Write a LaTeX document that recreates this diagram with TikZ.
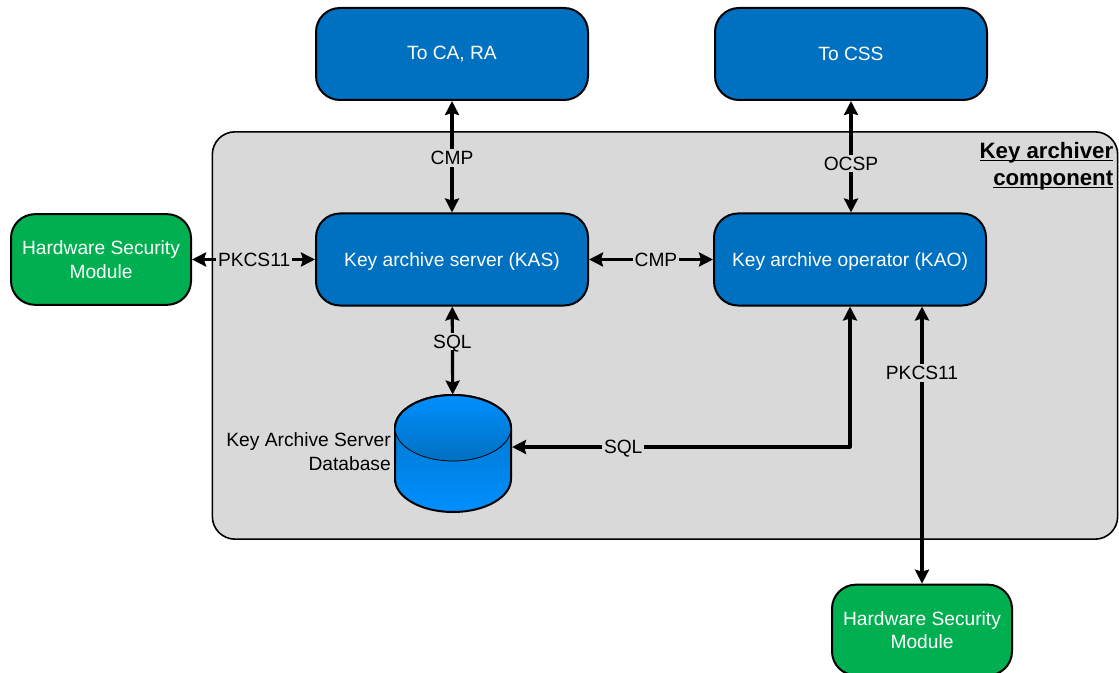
\documentclass[tikz,border=0pt]{standalone}
\usepackage{fontspec}
\usetikzlibrary{arrows.meta}
\setmainfont{Liberation Sans}
\definecolor{panelgray}{HTML}{D9D9D9}
\definecolor{boxblue}{HTML}{0070C0}
\definecolor{dbblue}{HTML}{0090FF}
\definecolor{hsmgreen}{HTML}{00B050}
\newcommand{\titleline}[1]{\underline{\smash{#1}}}
\tikzset{
  unit/.style={draw=black, line width=1.5pt, rounded corners=18pt, text=white, align=center, minimum width=204pt, minimum height=69pt, fill=boxblue},
  hsm/.style={unit, fill=hsmgreen, minimum width=135pt, minimum height=68pt},
  link/.style={<->, line width=2.4pt},
  proto/.style={fill=panelgray, inner sep=1.5pt, text depth=0pt}
}
\begin{document}
\begin{tikzpicture}[x=0.75pt, y=-0.75pt, font=\fontsize{14.4}{17.5}\selectfont, line join=round, >={Stealth[length=10.5pt,width=10.5pt,inset=1.5pt]}]
\useasboundingbox (0,0) rectangle (1119,673);
\node[draw=black, line width=1.2pt, fill=panelgray, rounded corners=17pt, minimum width=679pt, minimum height=305.5pt] (panel) at (665,335.5) {};
\node[anchor=north east, align=right, font=\fontsize{16.7}{20.3}\bfseries\selectfont, inner sep=0pt] (title) at (1113.5,158) {\titleline{Key archiver}\\\titleline{component}};
\node[unit] (toca) at (452,54) {To CA, RA};
\node[unit] (tocss) at (851,54) {To CSS};
\node[unit, text depth=0pt] (kas) at (452,259.5) {Key archive server (KAS)};
\node[unit, text depth=0pt] (kao) at (850,259.5) {Key archive operator (KAO)};
\node[hsm] (hsma) at (101,259.5) {Hardware Security\\Module};
\node[hsm] (hsmb) at (922,630) {Hardware Security\\Module};
% database drum
\node[minimum width=87pt, minimum height=88pt, inner sep=0pt] (db) at (453,453.5) {};
\shade[draw=black, line width=1.5pt, shading angle=-45, top color=boxblue, middle color=dbblue, bottom color=dbblue] (395,428) -- (395,479) arc[start angle=180, end angle=0, x radius=58, y radius=33] -- (511,428) arc[start angle=0, end angle=-180, x radius=58, y radius=33] -- cycle;
\shade[draw=black, line width=0.6pt, top color=dbblue, bottom color=boxblue] (453,428) ellipse[x radius=58, y radius=33];
\draw[line width=1.5pt] (395,428) arc[start angle=180, end angle=360, x radius=58, y radius=33];
\node[anchor=east, align=right, inner sep=0pt] (dblabel) at (391,451.5) {Key Archive Server\\Database};
\coordinate (dbport) at (512,447);
% connectors
\draw[link] (toca) -- node[proto, pos=.51] (cmpa) {CMP} (kas);
\draw[link] (tocss.south) -- node[proto, pos=.56] (ocsp) {OCSP} (tocss.south |- kao.north);
\draw[link] (hsma) -- node[proto, pos=.505] (pkcsa) {PKCS11} (kas);
\draw[link] (kas) -- node[proto, pos=.54] (cmpb) {CMP} (kao);
\draw[link] (kas) -- node[proto, pos=.4] (sqla) {SQL} (db);
\draw[link] (dbport) -- node[proto, pos=.329] (sqlb) {SQL} (dbport -| kao.south) -- (kao.south);
\draw[link] (hsmb.north) -- node[proto, pos=.76] (pkcsb) {PKCS11} (hsmb.north |- kao.south);
\end{tikzpicture}
\end{document}
